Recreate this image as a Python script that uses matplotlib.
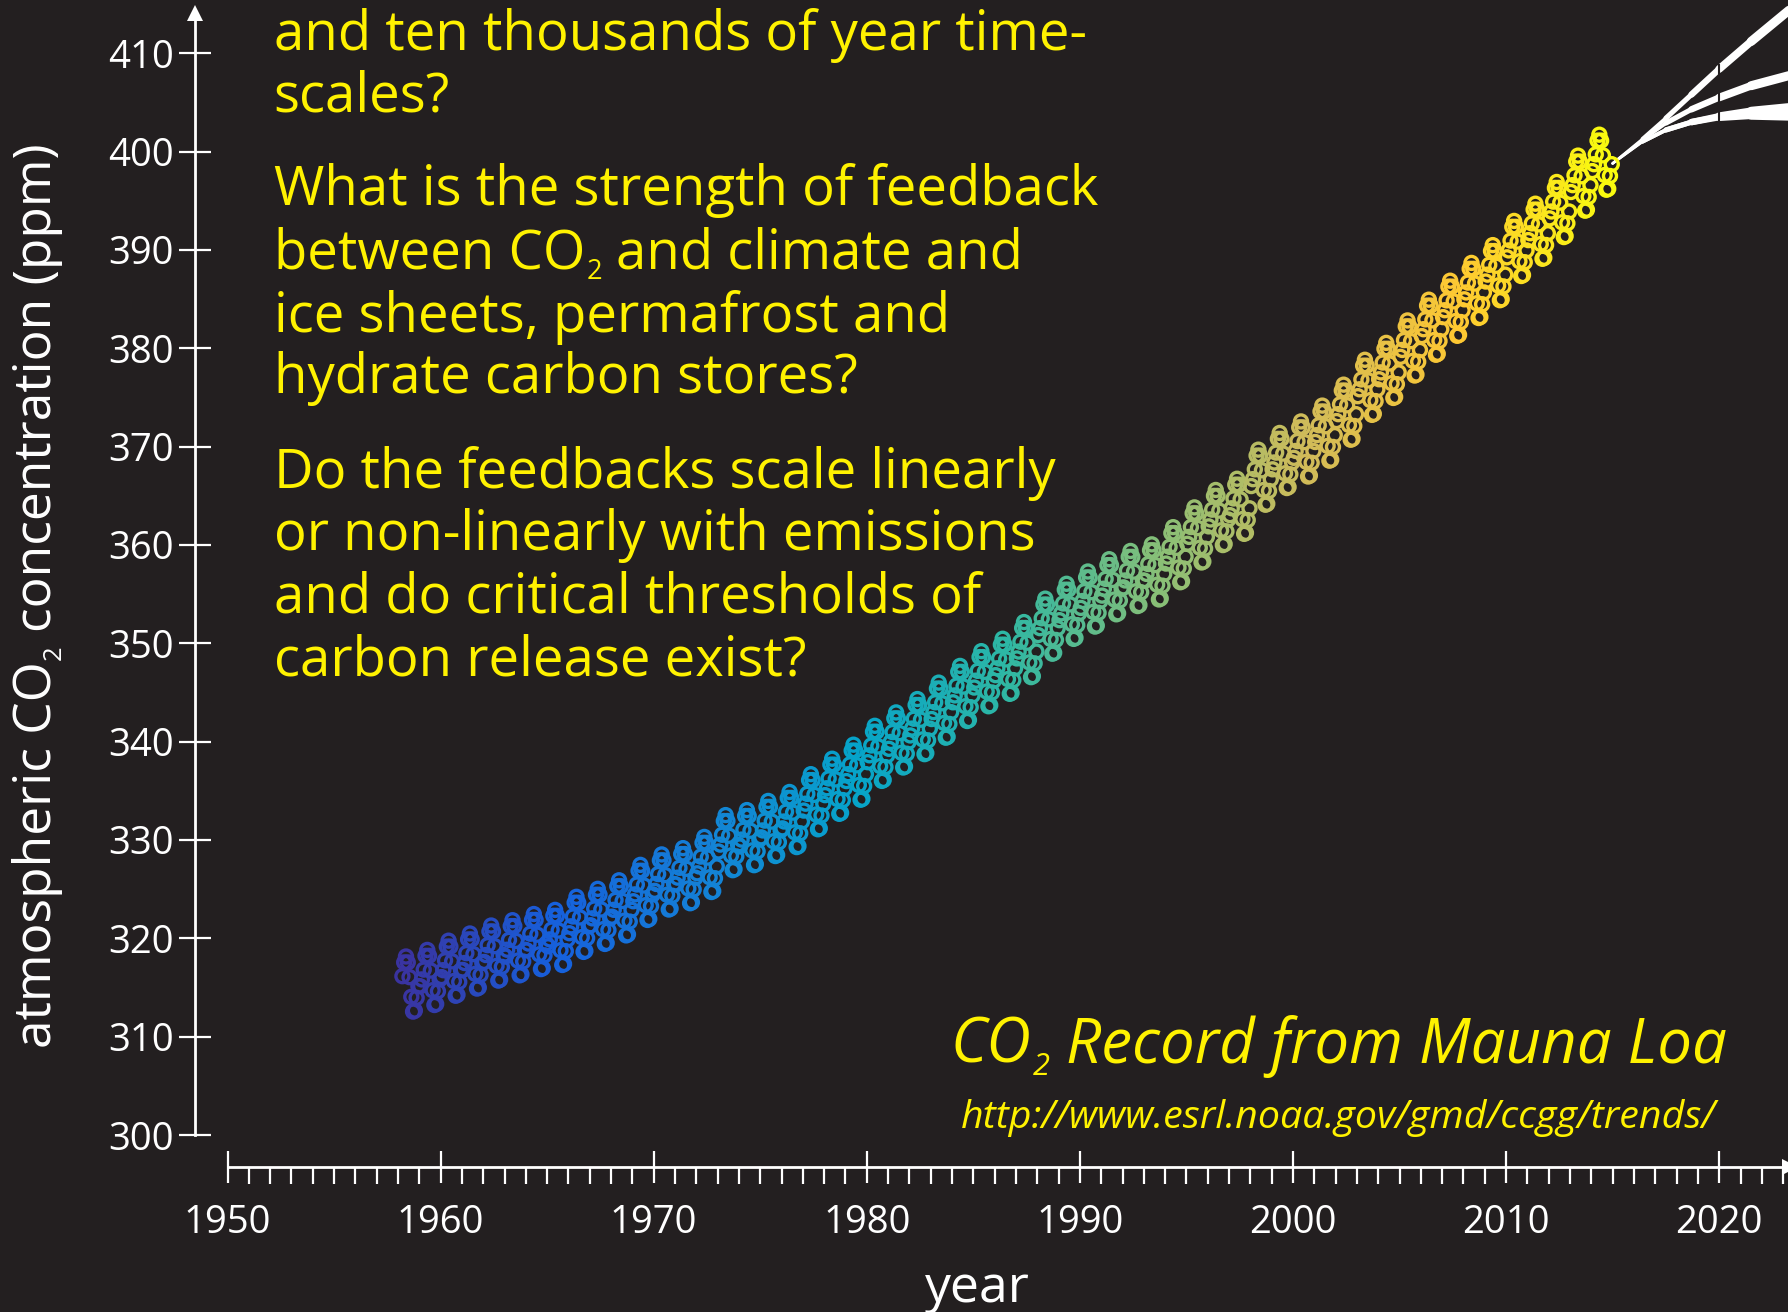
import numpy as np
import matplotlib
matplotlib.use("Agg")
import matplotlib.pyplot as plt
from matplotlib import font_manager
from matplotlib.colors import LinearSegmentedColormap, Normalize
from matplotlib.collections import LineCollection

# ---------------- data ----------------
record_years = list(range(1958, 2015))
annual_mean_ppm = [315.30, 315.97, 316.91, 317.64, 318.45, 318.99, 319.62, 320.04, 321.37, 322.18,
                   323.05, 324.62, 325.68, 326.32, 327.46, 329.68, 330.19, 331.12, 332.03, 333.84,
                   335.41, 336.84, 338.76, 340.12, 341.48, 343.15, 344.85, 346.35, 347.61, 349.31,
                   351.69, 353.20, 354.45, 355.70, 356.54, 357.21, 358.96, 360.97, 362.74, 363.88,
                   366.84, 368.54, 369.71, 371.32, 373.45, 375.98, 377.70, 379.98, 382.09, 384.02,
                   385.83, 387.64, 390.10, 391.85, 394.06, 396.74, 398.87]
# monthly departure from the annual mean, Jan..Dec
seasonal_offset_ppm = [-0.85, -0.15, 0.85, 2.25, 2.85, 2.25, 0.75, -1.25, -2.75, -2.65, -1.35, -0.15]
first_month_1958 = 3

proj_years = [2015.0, 2016.4, 2017.5, 2018.7, 2020.0, 2021.5, 2023.4]
proj_high = [398.8, 401.3, 403.4, 405.8, 408.4, 411.2, 414.6]
proj_mid = [398.8, 401.2, 402.9, 404.3, 405.5, 406.7, 407.8]
proj_low_a = [398.8, 401.0, 402.2, 403.0, 403.6, 404.1, 404.5]
proj_low_b = [398.8, 401.0, 402.2, 403.0, 403.5, 403.7, 403.6]

y_ticks = list(range(300, 411, 10))
x_major_ticks = list(range(1950, 2021, 10))
x_minor_ticks = list(range(1950, 2024))

block_top = ["and ten thousands of year time-", "scales?"]
block_mid = ["What is the strength of feedback",
             ("between CO", "2", "and climate and"),
             "ice sheets, permafrost and",
             "hydrate carbon stores?"]
block_low = ["Do the feedbacks scale linearly",
             "or non-linearly with emissions",
             "and do critical thresholds of",
             "carbon release exist?"]
title_parts = ("CO", "2", "Record from Mauna Loa")
url_text = "http://www.esrl.noaa.gov/gmd/ccgg/trends/"
ylabel_parts = ("atmospheric CO", "2", "concentration (ppm)")
xlabel_text = "year"

# ---------------- styling ----------------
BG = "#231f20"
YEL = "#fff200"
WHITE = "#ffffff"
W, H = 1788, 1312
DPI = 100
X0_PX, PX_PER_YR = 227.5, 21.31      # pixel of 1950, pixels per year
Y300_PX, PX_PER_PPM = 1135.0, 9.834  # pixel of 300 ppm, pixels per ppm
SUB_SCALE, SUB_DROP, SPACE_EM = 0.5, 0.2, 0.26

names = {f.name for f in font_manager.fontManager.ttflist}
base_family = "Open Sans" if "Open Sans" in names else "DejaVu Sans"
italic_family = base_family
for fam in ["Open Sans", "Lato", "Noto Sans", "DejaVu Sans"]:
    if any(f.name == fam and f.style in ("italic", "oblique") for f in font_manager.fontManager.ttflist):
        italic_family = fam
        break

plt.rcParams["font.family"] = [base_family, "DejaVu Sans"]

parula = LinearSegmentedColormap.from_list(
    "parula_like",
    ["#3a33a0", "#1660dc", "#1481d6", "#06a4ca", "#2eb7a4",
     "#87bf77", "#d1bb59", "#fec832", "#f9fb0e"])

# ---------------- build monthly series ----------------
t, co2 = [], []
for yr, mean in zip(record_years, annual_mean_ppm):
    for m, off in enumerate(seasonal_offset_ppm, start=1):
        if yr == 1958 and m < first_month_1958:
            continue
        t.append(yr + (m - 0.5) / 12.0)
        co2.append(mean + off)
t = np.array(t)
co2 = np.array(co2)

# ---------------- figure ----------------
fig = plt.figure(figsize=(W / DPI, H / DPI), dpi=DPI, facecolor=BG)
ax = fig.add_axes([0, 0, 1, 1])
ax.set_facecolor(BG)
xmin = 1950 - X0_PX / PX_PER_YR
xmax = 1950 + (W - X0_PX) / PX_PER_YR
ymin = 300 - (H - Y300_PX) / PX_PER_PPM
ymax = 300 + Y300_PX / PX_PER_PPM
ax.set_xlim(xmin, xmax)
ax.set_ylim(ymin, ymax)

yaxis_x = 1950 - (X0_PX - 195.0) / PX_PER_YR
xaxis_y = 300 - (1167.0 - Y300_PX) / PX_PER_PPM

for s in ("top", "right"):
    ax.spines[s].set_visible(False)
ax.spines["left"].set_position(("data", yaxis_x))
ax.spines["left"].set_bounds(300, 413.6)
ax.spines["bottom"].set_position(("data", xaxis_y))
ax.spines["bottom"].set_bounds(1950, xmax)
for s in ("left", "bottom"):
    ax.spines[s].set_color(WHITE)
    ax.spines[s].set_linewidth(2.0)

# arrow heads on the axes
ax.plot([yaxis_x], [300 + (Y300_PX - 13) / PX_PER_PPM], marker="^", ms=11.5,
        color=WHITE, mew=0, clip_on=False, zorder=5)
ax.plot([xmax + 2 / PX_PER_YR], [xaxis_y], marker=">", ms=11.5,
        color=WHITE, mew=0, clip_on=False, zorder=5)

ax.set_yticks(y_ticks)
ax.set_xticks(x_major_ticks)
ax.set_xticks(x_minor_ticks, minor=True)
ax.tick_params(axis="y", which="major", direction="inout", length=23.5, width=1.6,
               colors=WHITE, pad=3.6, labelsize=27.5)
ax.tick_params(axis="x", which="major", direction="inout", length=23.5, width=1.6,
               colors=WHITE, pad=14.8, labelsize=27.5)
ax.tick_params(axis="x", which="minor", direction="out", length=12.3, width=1.6,
               colors=WHITE)

# projection curves
for ys in (proj_high, proj_mid, proj_low_a, proj_low_b):
    pts = np.column_stack([proj_years, ys])
    segs = np.stack([pts[:-1], pts[1:]], axis=1)
    lc = LineCollection(segs, colors=WHITE,
                        linewidths=np.linspace(1.8, 6.5, len(segs)),
                        capstyle="round", zorder=2)
    ax.add_collection(lc)
ax.vlines(2020, 402.8, 408.9, colors=BG, linewidth=1.5, zorder=2.5)

# Mauna Loa record
norm = Normalize(t.min(), t.max())
ax.scatter(t, co2, s=88, facecolors="none", edgecolors=parula(norm(t)),
           linewidths=2.4, zorder=3)

# ---------------- text ----------------
renderer = fig.canvas.get_renderer()


def pieces_text(x_px, y_px, parts, size, color, align="left", rotation=0,
                target=None, **kw):
    """Draw text made of (main, subscript, main) parts; x_px/y_px are the
    baseline anchor in pixels from the top-left corner."""
    if isinstance(parts, str):
        parts = (parts,)
    arts = []
    for p in parts:
        arts.append(fig.text(0, 0, p, color=color, rotation=rotation,
                             rotation_mode="anchor", ha="left", va="baseline", **kw))

    def layout(sz):
        lengths = []
        for i, a in enumerate(arts):
            a.set_fontsize(sz * (SUB_SCALE if (len(parts) == 3 and i == 1) else 1.0))
            bb = a.get_window_extent(renderer)
            lengths.append(bb.height if rotation == 90 else bb.width)
        em = sz * DPI / 72.0
        if len(parts) == 3:
            gaps = [0.0, 0.02 * em, SPACE_EM * em]
        else:
            gaps = [0.0] * len(parts)
        total = sum(lengths) + sum(gaps)
        return lengths, gaps, total, em

    lengths, gaps, total, em = layout(size)
    if target is not None:
        size = size * target / total
        lengths, gaps, total, em = layout(size)
    start = {"left": 0.0, "center": -total / 2, "right": -total}[align]
    pos = start
    for i, a in enumerate(arts):
        pos += gaps[i]
        drop = SUB_DROP * em if (len(parts) == 3 and i == 1) else 0.0
        if rotation == 90:
            px = x_px + drop
            py_up = (H - y_px) + pos
        else:
            px = x_px + pos
            py_up = (H - y_px) - drop
        a.set_position((px / W, py_up / H))
        pos += lengths[i]
    return size


LEFT = 273.7
baselines_top = [50.0, 111.0]
baselines_mid = [205.0, 268.3, 331.7, 392.7]
baselines_low = [487.7, 550.3, 612.9, 675.5]

qsize = pieces_text(LEFT, baselines_mid[0], block_mid[0], 40, YEL, target=823)
for lines, bls in ((block_top, baselines_top), (block_mid, baselines_mid),
                   (block_low, baselines_low)):
    for txt, bl in zip(lines, bls):
        if txt is block_mid[0]:
            continue
        pieces_text(LEFT, bl, txt, qsize, YEL)

italic_kw = dict(family=[italic_family, "DejaVu Sans"], style="italic")
pieces_text(1726.6, 1062.7, title_parts, 40, YEL, align="right", target=775, **italic_kw)
pieces_text(1715.7, 1127.7, url_text, 25, YEL, align="right", target=757, **italic_kw)
pieces_text(50.7, 596.0, ylabel_parts, 34, WHITE, align="center", rotation=90, target=906)
pieces_text(977.5, 1302.0, xlabel_text, 32, WHITE, align="center", target=105)

fig.savefig("out.png", dpi=DPI, facecolor=BG)
